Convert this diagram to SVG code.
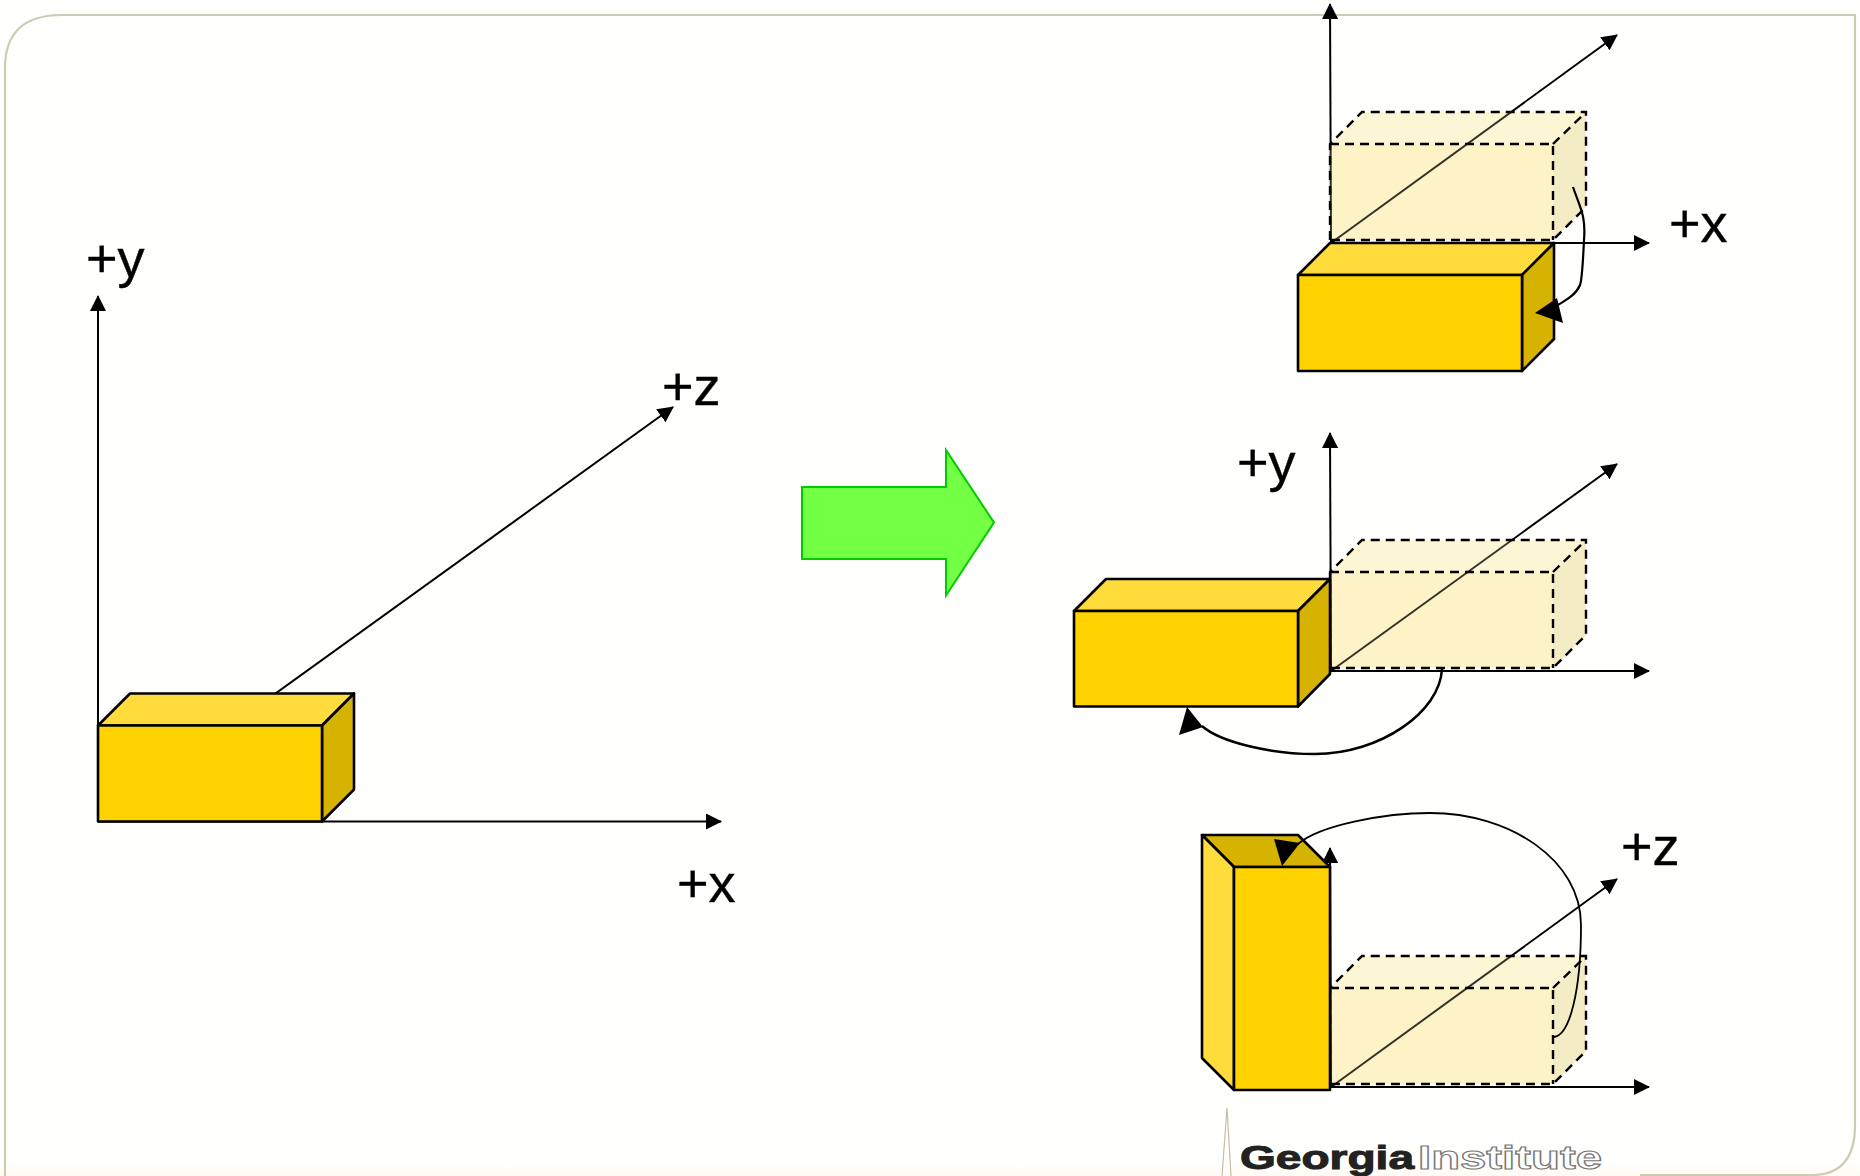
<svg xmlns="http://www.w3.org/2000/svg" width="1860" height="1176" viewBox="0 0 1860 1176">
<style>
.ax{fill:none;stroke:#000;stroke-width:2;marker-end:url(#ah)}
.cv{fill:none;stroke:#000;stroke-width:2.2}
.hd{fill:#000;stroke:none}
.ed{stroke:#000;stroke-width:2.6;stroke-linejoin:round}
.fr{fill:#ffd300}.tp{fill:#ffdc3c}.sd{fill:#d6b300}
.gf{stroke:none;fill:#fdf3c6}
.gt{stroke:none;fill:#fdf6d4}
.gs{stroke:none;fill:#f4ecc4}
.gd{fill:none;stroke:#000;stroke-width:2.4;stroke-dasharray:9 6}
.veil{opacity:.2}
.lb{font-family:"Liberation Sans",Arial,sans-serif;font-size:54px;fill:#000;stroke:#000;stroke-width:.4}
</style>
<defs>
<marker id="ah" markerUnits="userSpaceOnUse" markerWidth="16" markerHeight="16" refX="15" refY="8" orient="auto"><path d="M0 0L16 8L0 16Z" fill="#000"/></marker>
<linearGradient id="bt" x1="0" y1="0" x2="0" y2="1"><stop offset="0" stop-color="#fffaf3" stop-opacity="0"/><stop offset="1" stop-color="#fffaf3"/></linearGradient>
<g id="faces">
<path class="gf" d="M1330 144H1553V240H1330Z"/>
<path class="gt" d="M1330 144L1362 112H1586L1553 144Z"/>
<path class="gs" d="M1553 144L1586 112V207L1553 240Z"/>
</g>
<path id="dash" class="gd" d="M1330 240V144L1362 112H1586V207L1553 240H1330M1330 144H1553V240M1553 144L1586 112"/>
</defs>
<rect width="1860" height="1176" fill="#fffffe"/>
<rect y="1164" width="1860" height="12" fill="url(#bt)"/>
<path id="frame" d="M5 1176V68Q5 15 62 15H1855V1125Q1855 1175 1812 1175H1640" fill="none" stroke="#cdcbb3" stroke-width="2.2"/>

<g id="ghost-fills">
<use href="#faces"/>
<use href="#faces" transform="translate(0 428)"/>
<use href="#faces" transform="translate(0 844)"/>
</g>

<g id="axes">
<path class="ax" d="M98 821.500V296"/><path class="ax" d="M98 821.500H721"/><path class="ax" d="M98 821.500L673 407"/>
<path class="ax" d="M1331 243L1330 4"/><path class="ax" d="M1331 243H1649"/><path class="ax" d="M1331 243L1617 35"/>
<path class="ax" d="M1331 671L1330 433"/><path class="ax" d="M1331 671H1649"/><path class="ax" d="M1331 671L1617 464"/>
<path class="ax" d="M1331 1087L1330 848"/><path class="ax" d="M1331 1087H1649"/><path class="ax" d="M1331 1087L1617 879"/>
</g>

<g id="ghost-top"><use href="#faces" class="veil"/><use href="#dash"/></g>
<g id="ghost-middle" transform="translate(0 428)"><use href="#faces" class="veil"/><use href="#dash"/></g>
<g id="ghost-bottom" transform="translate(0 844)"><use href="#faces" class="veil"/><use href="#dash"/></g>

<g id="box-left" class="ed">
<path class="tp" d="M98 725.500L130 693.500H354L322 725.500Z"/><path class="sd" d="M322 725.500L354 693.500V789.500L322 821.500Z"/><path class="fr" d="M98 725.500H322V821.500H98Z"/>
</g>
<g id="box-top" class="ed">
<path class="tp" d="M1298 275L1330 243H1554L1522 275Z"/><path class="sd" d="M1522 275L1554 243V339L1522 371Z"/><path class="fr" d="M1298 275H1522V371H1298Z"/>
</g>
<g id="box-middle" class="ed">
<path class="tp" d="M1074 611L1106 579H1330L1298 611Z"/><path class="sd" d="M1298 611L1330 579V674L1298 706.500Z"/><path class="fr" d="M1074 611H1298V706.500H1074Z"/>
</g>
<g id="box-bottom" class="ed">
<path class="sd" d="M1202 835H1298L1330 867H1234Z"/><path class="tp" d="M1202 835L1234 867V1090L1202 1058Z"/><path class="fr" d="M1234 867H1330V1090H1234Z"/>
</g>

<g id="connectors">
<path class="cv" d="M1573 187C1580 208 1586 215 1584 240C1583 262 1582 280 1580 285C1576 295 1566 300 1558 305"/>
<path class="hd" d="M1535 313L1563 323L1557 298Z"/>
<path class="cv" style="stroke-width:2.5" d="M1442 669C1440 712 1380 754 1315 754C1270 754 1220 742 1202 726"/>
<path class="hd" d="M1187 707L1179 735L1203 727Z"/>
<path class="cv" style="stroke-width:1.8" d="M1554 1037C1570 1035 1581 990 1581 925C1581 860 1510 813 1430 813C1385 813 1320 825 1298 844"/>
<path class="hd" d="M1274 839L1282 866L1300 843Z"/>
</g>

<g id="big-arrow"><path d="M802 487H946V450L994 522.500L946 595.500V559H802Z" fill="#73ff44" stroke="#00cc00" stroke-width="2"/></g>

<g id="labels">
<text class="lb" x="86" y="277">+y</text>
<text class="lb" x="662" y="405">+z</text>
<text class="lb" x="677" y="902">+x</text>
<text class="lb" x="1669" y="242">+x</text>
<text class="lb" x="1237" y="481">+y</text>
<text class="lb" x="1621" y="865">+z</text>
</g>

<g id="logo">
<path d="M1227 1108L1222 1176M1227 1108L1231 1176" fill="none" stroke="#c8bda8" stroke-width="1.2"/>
<text x="1240" y="1169" font-family="Liberation Sans,Arial,sans-serif" font-weight="700" font-size="33" fill="#222" stroke="#222" stroke-width="1" textLength="174" lengthAdjust="spacingAndGlyphs">Georgia</text>
<text x="1418" y="1169" font-family="Liberation Sans,Arial,sans-serif" font-weight="700" font-size="33" fill="#fff" stroke="#777" stroke-width="1.1" textLength="184" lengthAdjust="spacingAndGlyphs">Institute</text>
</g>
</svg>
